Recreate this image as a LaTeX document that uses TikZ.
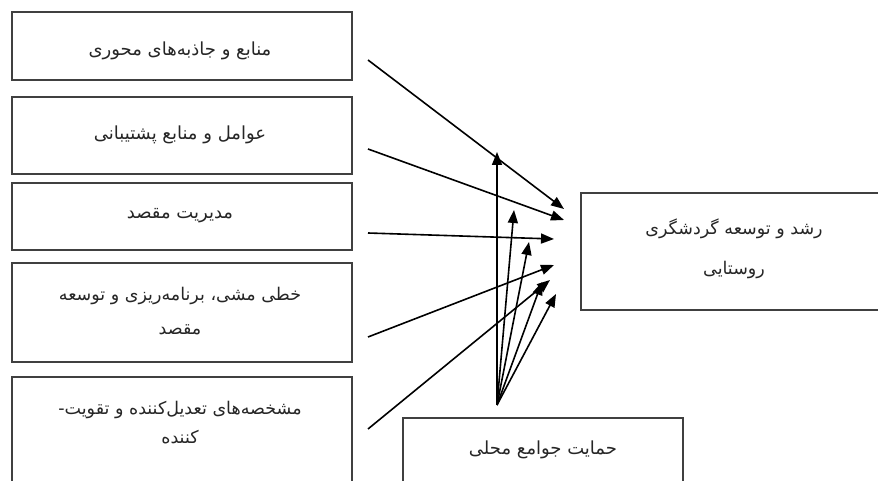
\documentclass[tikz,border=0pt]{standalone}
\usepackage{fontspec}
\newfontfamily\arabicfont[Script=Arabic]{DejaVu Sans}
\TeXXeTstate=1
\usetikzlibrary{arrows.meta}
\begin{document}
\begin{tikzpicture}[x=1pt,y=-1pt,
  box/.style={draw=black!75, line width=1.6pt, rectangle, inner sep=0pt},
  txt/.style={align=center, inner sep=0pt, text=black!85, font=\arabicfont\fontsize{18}{30}\selectfont},
  conn/.style={line width=1.6pt, -{Triangle[length=13pt,width=10pt]}}]
\useasboundingbox (0,0) rectangle (878,481);
\clip (0,0) rectangle (878,481);
\fill[white] (0,0) rectangle (878,481);
% left boxes
\node[box, minimum width=340pt, minimum height=68pt] (b1) at (182,46) {};
\node[box, minimum width=340pt, minimum height=77pt] (b2) at (182,135.5) {};
\node[box, minimum width=340pt, minimum height=67pt] (b3) at (182,216.5) {};
\node[box, minimum width=340pt, minimum height=99pt] (b4) at (182,312.5) {};
\node[box, minimum width=340pt, minimum height=124pt, anchor=north] (b5) at (182,376) {};
\node[box, minimum width=306pt, minimum height=117pt] (t) at (734,251.5) {};
\node[box, minimum width=280pt, minimum height=80pt, anchor=north] (c) at (543,417) {};
% texts
\node[txt] (b1t) at (180,51) {\beginR منابع و جاذبه‌های محوری\endR};
\node[txt] (b2t) at (180,135) {\beginR عوامل و منابع پشتیبانی\endR};
\node[txt] (b3t) at (180,216) {\beginR مدیریت مقصد\endR};
\node[txt, font=\arabicfont\fontsize{17.5}{34}\selectfont] (b4t) at (180,311) {\beginR خطی مشی، برنامه‌ریزی و توسعه\endR\\\beginR مقصد\endR};
\node[txt, font=\arabicfont\fontsize{17.5}{29}\selectfont] (b5t) at (180,423) {\beginR مشخصه‌های تعدیل‌کننده و تقویت-\endR\\\beginR کننده\endR};
\node[txt, font=\arabicfont\fontsize{17.5}{40}\selectfont] (tt) at (734,249) {\beginR رشد و توسعه گردشگری\endR\\\beginR روستایی\endR};
\node[txt] (ct) at (543,450) {\beginR حمایت جوامع محلی\endR};
% arrow ends
\coordinate (s1) at (368,60);
\coordinate (s2) at (368,149);
\coordinate (s3) at (368,233);
\coordinate (s4) at (368,337);
\coordinate (s5) at (368,429);
\coordinate (e1) at (564,209);
\coordinate (e2) at (564,220);
\coordinate (e3) at (554,239);
\coordinate (e4) at (554,265);
\coordinate (e5) at (550,280);
\coordinate (f) at (497,405);
\coordinate (g1) at (497,152);
\coordinate (g2) at (514,210);
\coordinate (g3) at (529,242);
\coordinate (g4) at (542,282);
\coordinate (g5) at (556,294);
\draw[conn] (s1) -- (e1);
\draw[conn] (s2) -- (e2);
\draw[conn] (s3) -- (e3);
\draw[conn] (s4) -- (e4);
\draw[conn] (s5) -- (e5);
\foreach \i in {1,...,5} \draw[conn] (f) -- (g\i);
\end{tikzpicture}
\end{document}
